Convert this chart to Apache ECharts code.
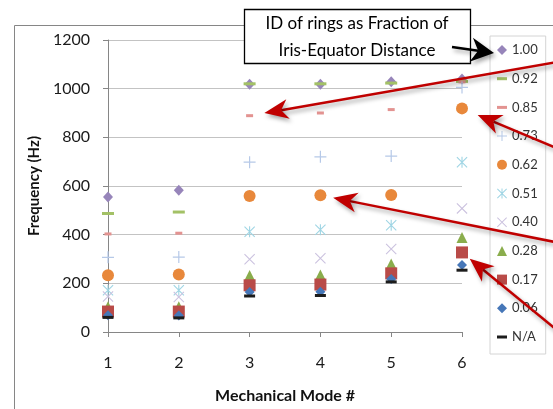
<!DOCTYPE html>
<html>
<head>
<meta charset="utf-8">
<script src="https://cdn.jsdelivr.net/npm/echarts@6/dist/echarts.min.js"></script>
<style>
  html, body { margin: 0; padding: 0; background: #fff; }
  #chart { width: 553px; height: 409px; }
</style>
</head>
<body>
<div id="chart"></div>
<script>
// Mechanical modes along the x axis
const modes = ['1', '2', '3', '4', '5', '6'];

// Ring inner diameter as fraction of iris-equator distance (legend order)
const ringLabels = ['1.00', '0.92', '0.85', '0.73', '0.62', '0.51', '0.40', '0.28', '0.17', '0.06', 'N/A'];

// Frequency (Hz) of each mode for each ring
const ring100 = [555, 583, 1018, 1018, 1028, 1040];
const ring092 = [487, 493, 1020, 1020, 1023, 1030];
const ring085 = [403, 406, 889, 900, 914, 1028];
const ring073 = [307, 308, 698, 720, 723, 1005];
const ring062 = [233, 236, 559, 562, 563, 919];
const ring051 = [172, 172, 412, 420, 439, 698];
const ring040 = [146, 144, 299, 303, 341, 508];
const ring028 = [104, 104, 232, 234, 279, 388];
const ring017 = [84, 84, 192, 195, 241, 327];
const ring006 = [69, 68, 164, 165, 218, 275];
const ringNone = [60, 58, 148, 150, 206, 254];

const ringValues = [ring100, ring092, ring085, ring073, ring062, ring051, ring040, ring028, ring017, ring006, ringNone];

// Frequency axis ticks
const freqMin = 0, freqMax = 1200, freqStep = 200;

// Thin outline-style marker shapes
const PLUS = 'path://M4.5,0H5.5V4.5H10V5.5H5.5V10H4.5V5.5H0V4.5H4.5Z';
const CROSS = 'path://M0,0.7L0.7,0L10,9.3L9.3,10Z M10,0.7L0.7,10L0,9.3L9.3,0Z';
const STAR = 'path://M0,0.7L0.7,0L10,9.3L9.3,10Z M10,0.7L0.7,10L0,9.3L9.3,0Z M4.5,0H5.5V10H4.5Z';
const DASH = 'path://M0,0H10V3H0Z';

// Marker style per ring
const markerStyles = [
  { symbol: 'diamond', size: [10, 11], color: '#9785ba', icon: 'diamond' },
  { symbol: 'rect', size: [12, 3], color: '#a3c166', icon: DASH },
  { symbol: 'rect', size: [7, 3], color: '#e39391', icon: DASH },
  { symbol: PLUS, size: 12, color: '#b6c9e8', icon: PLUS },
  { symbol: 'circle', size: 12, color: '#e8883b', icon: 'circle' },
  { symbol: STAR, size: 11, color: '#9fd5e4', icon: STAR },
  { symbol: CROSS, size: 11, color: '#cbc2df', icon: CROSS },
  { symbol: 'triangle', size: 11, color: '#8aad4c', icon: 'triangle' },
  { symbol: 'rect', size: 12, color: '#b94b48', icon: 'rect' },
  { symbol: 'diamond', size: 10, color: '#4677b8', icon: 'diamond' },
  { symbol: 'rect', size: [11, 3], color: '#1c1c1c', icon: DASH }
];

const FONT = 'Lato, "Open Sans", sans-serif';

const series = ringLabels.map((name, i) => ({
  name: name,
  type: 'scatter',
  data: ringValues[i],
  symbol: markerStyles[i].symbol,
  symbolSize: markerStyles[i].size,
  itemStyle: { color: markerStyles[i].color, opacity: 1 },
  emphasis: { disabled: true },
  z: 2 + i * 0.01
}));

const chart = echarts.init(document.getElementById('chart'), null, { renderer: 'canvas' });

chart.setOption({
  animation: false,
  backgroundColor: '#ffffff',
  textStyle: { fontFamily: FONT },
  grid: { left: 108, right: 91, top: 40, bottom: 76, containLabel: false },
  xAxis: {
    type: 'category',
    data: modes,
    boundaryGap: false,
    name: 'Mechanical Mode #',
    nameLocation: 'middle',
    nameGap: 56,
    nameTextStyle: { fontFamily: FONT, fontSize: 16, fontWeight: 'bold', color: '#111' },
    axisLine: { lineStyle: { color: '#868686', width: 1 } },
    axisTick: { show: true, alignWithLabel: true, length: 5, inside: false, lineStyle: { color: '#868686' } },
    axisLabel: { margin: 23, fontFamily: FONT, fontSize: 16, color: '#1a1a1a' },
    splitLine: { show: false }
  },
  yAxis: {
    type: 'value',
    min: freqMin,
    max: freqMax,
    interval: freqStep,
    name: 'Frequency (Hz)',
    nameLocation: 'middle',
    nameRotate: 90,
    nameGap: 61,
    nameTextStyle: { fontFamily: FONT, fontSize: 15, fontWeight: 'bold', color: '#111' },
    axisLine: { show: true, lineStyle: { color: '#868686', width: 1 } },
    axisTick: { show: true, length: 5, inside: false, lineStyle: { color: '#868686' } },
    axisLabel: { margin: 18, fontFamily: FONT, fontSize: 16, color: '#1a1a1a', formatter: v => String(v) },
    splitLine: { show: true, lineStyle: { color: '#c3c3c3', width: 1 } }
  },
  legend: {
    orient: 'vertical',
    left: 490,
    top: 36,
    padding: [7, 8, 10, 7],
    itemWidth: 10,
    itemHeight: 10,
    itemGap: 14.7,
    symbolKeepAspect: true,
    borderColor: '#d4d4d4',
    borderWidth: 1,
    backgroundColor: '#ffffff',
    selectedMode: false,
    textStyle: { fontFamily: FONT, fontSize: 13, color: '#333', lineHeight: 14, padding: [0, 0, 0, 0] },
    data: ringLabels.map((name, i) => ({ name: name, icon: markerStyles[i].icon }))
  },
  series: series
});

// Annotation arrows: a line ending in a notched ("stealth") head
function arrow(tail, tip, color, headLen, headHalf, notch, width) {
  const dx = tip[0] - tail[0], dy = tip[1] - tail[1];
  const len = Math.hypot(dx, dy);
  const ux = dx / len, uy = dy / len;
  const nx = -uy, ny = ux;
  const base = [tip[0] - ux * headLen, tip[1] - uy * headLen];
  const inner = [tip[0] - ux * (headLen - notch), tip[1] - uy * (headLen - notch)];
  const shadow = { shadowColor: 'rgba(0,0,0,0.35)', shadowBlur: 4, shadowOffsetX: 2, shadowOffsetY: 3 };
  return [
    {
      type: 'line', z: 20,
      shape: { x1: tail[0], y1: tail[1], x2: inner[0], y2: inner[1] },
      style: Object.assign({ stroke: color, lineWidth: width, lineCap: 'butt' }, shadow)
    },
    {
      type: 'polygon', z: 21,
      shape: {
        points: [
          tip,
          [base[0] + nx * headHalf, base[1] + ny * headHalf],
          inner,
          [base[0] - nx * headHalf, base[1] - ny * headHalf]
        ]
      },
      style: Object.assign({ fill: color }, shadow)
    }
  ];
}

// Point an arrow at a plotted value, stopping a little short of the marker
function pointedArrow(seriesIndex, modeIndex, tail, gap) {
  const p = chart.convertToPixel({ seriesIndex: seriesIndex }, [modeIndex, ringValues[seriesIndex][modeIndex]]);
  const dx = tail[0] - p[0], dy = tail[1] - p[1];
  const len = Math.hypot(dx, dy);
  const tip = [p[0] + dx / len * gap, p[1] + dy / len * gap];
  return arrow(tail, tip, '#c00000', 24, 10, 7, 2.5);
}

const RED = [
  pointedArrow(2, 2, [575, 59], 15),   // 0.85 ring, mode 3
  pointedArrow(4, 5, [575, 156], 17),  // 0.62 ring, mode 6
  pointedArrow(4, 3, [575, 246], 13),  // 0.62 ring, mode 4
  pointedArrow(8, 5, [575, 345], 10)   // 0.17 ring, mode 6
];

const graphics = [
  {
    type: 'rect', z: 0, silent: true,
    shape: { x: 14.5, y: 25.5, width: 700, height: 600 },
    style: { fill: 'none', stroke: '#868686', lineWidth: 1 }
  },
  {
    type: 'rect', z: 15,
    shape: { x: 244.5, y: 9.5, width: 226, height: 54 },
    style: { fill: '#ffffff', stroke: '#000000', lineWidth: 1.3 }
  },
  {
    type: 'text', z: 16,
    style: {
      x: 357, y: 37,
      text: 'ID of rings as Fraction of\nIris-Equator Distance',
      font: '17px ' + FONT,
      fill: '#000',
      align: 'center',
      verticalAlign: 'middle',
      lineHeight: 27
    }
  }
].concat(arrow([452, 47], [494, 53], '#000000', 23, 12, 7, 2.5))
 .concat(...RED);

chart.setOption({ graphic: graphics });
</script>
</body>
</html>
